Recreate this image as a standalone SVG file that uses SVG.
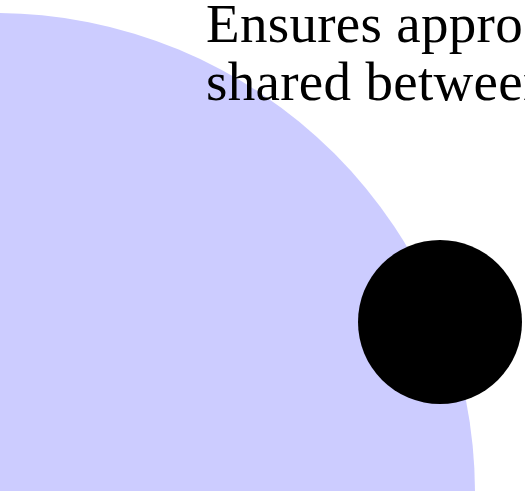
<svg xmlns="http://www.w3.org/2000/svg" width="525" height="491" viewBox="0 0 525 491">
  <style>
    .label { font-family: "Liberation Serif", "DejaVu Serif", serif; font-size: 55px; letter-spacing: 0.3px; fill: #000000; }
  </style>
  <rect width="525" height="491" fill="#ffffff"/>
  <g id="big-circle">
    <circle cx="-5" cy="493" r="480" fill="#ccccff"/>
  </g>
  <g id="dot">
    <circle cx="440" cy="322" r="82" fill="#000000"/>
  </g>
  <g id="caption">
    <text class="label" x="206" y="42">Ensures appro</text>
    <text class="label" x="206" y="100">shared between</text>
  </g>
  <g id="connectors"></g>
</svg>
